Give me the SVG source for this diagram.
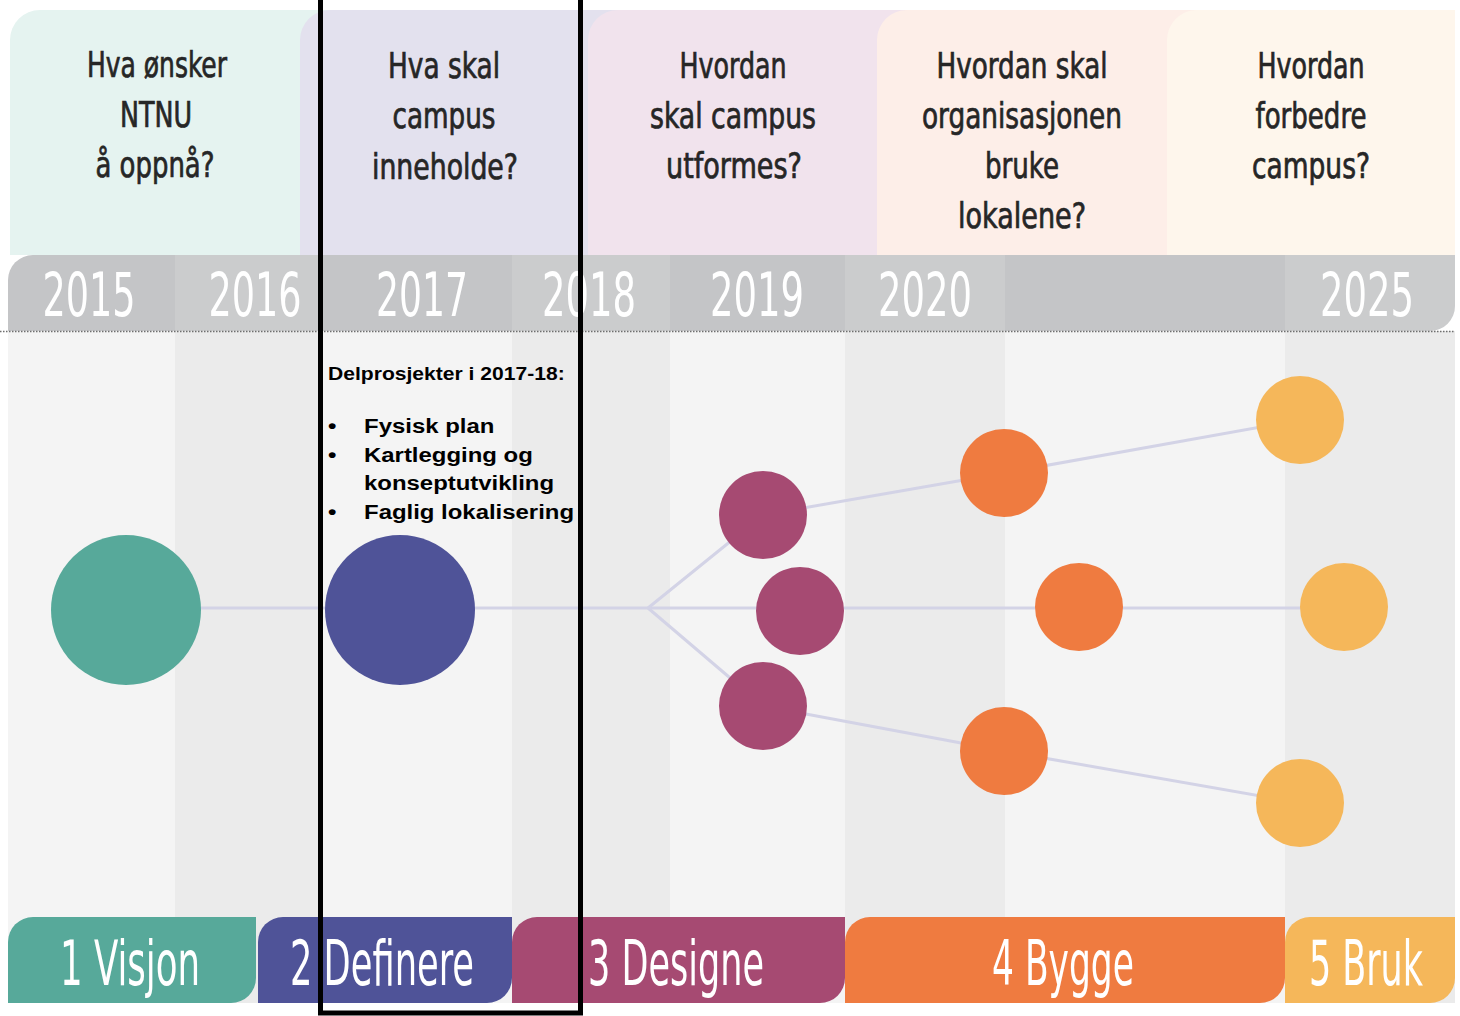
<svg xmlns="http://www.w3.org/2000/svg" width="1460" height="1016" viewBox="0 0 1460 1016">
  <style>
    .hdr { font-family: "Liberation Sans Narrow", "DejaVu Sans Condensed", "Liberation Sans", sans-serif; font-size: 35px; fill: #262626; stroke: #262626; stroke-width: 0.7px; text-anchor: middle; }
    .yr { font-family: "Liberation Sans Narrow", "DejaVu Sans Condensed", "Liberation Sans", sans-serif; font-size: 60px; fill: #ffffff; text-anchor: middle; }
    .tab { font-family: "Liberation Sans Narrow", "DejaVu Sans Condensed", "Liberation Sans", sans-serif; font-size: 62px; fill: #ffffff; text-anchor: middle; }
    .note { font-family: "Liberation Sans", Arial, sans-serif; font-weight: bold; fill: #000000; }
    .conn { fill: none; stroke: #d3d3e6; stroke-width: 3; stroke-linejoin: round; }
    .band-l { fill: #f4f4f4; }
    .band-d { fill: #ebebeb; }
  </style>
  <defs>
    <clipPath id="barclip">
      <path d="M8,331 V280 A25,25 0 0 1 33,255 H1455 V306 A25,25 0 0 1 1430,331 Z"/>
    </clipPath>
  </defs>

  <rect x="0" y="0" width="1460" height="1016" fill="#ffffff"/>

  <!-- background columns -->
  <g id="bands">
    <rect class="band-l" x="8" y="331" width="167" height="672"/>
    <rect class="band-d" x="175" y="331" width="145" height="672"/>
    <rect class="band-l" x="320" y="331" width="192" height="672"/>
    <rect class="band-d" x="512" y="331" width="158" height="672"/>
    <rect class="band-l" x="670" y="331" width="175" height="672"/>
    <rect class="band-d" x="845" y="331" width="160" height="672"/>
    <rect class="band-l" x="1005" y="331" width="280" height="672"/>
    <rect class="band-d" x="1285" y="331" width="170" height="672"/>
  </g>

  <!-- header panels -->
  <g id="panel-1">
    <path d="M10,255 V40 A30,30 0 0 1 40,10 H330 V255 Z" fill="#e5f3f0"/>
  </g>
  <g id="panel-2">
    <path d="M300,255 V40 A30,30 0 0 1 330,10 H620 V255 Z" fill="#e3e1ee"/>
  </g>
  <g id="panel-3">
    <path d="M588,255 V40 A30,30 0 0 1 618,10 H908 V255 Z" fill="#f1e3ed"/>
  </g>
  <g id="panel-4">
    <path d="M877,255 V40 A30,30 0 0 1 907,10 H1198 V255 Z" fill="#fdeee8"/>
  </g>
  <g id="panel-5">
    <path d="M1167,255 V40 A30,30 0 0 1 1197,10 H1455 V255 Z" fill="#fef6ec"/>
  </g>

  <g id="questions">
    <text class="hdr"><tspan x="157" y="77" textLength="140" lengthAdjust="spacingAndGlyphs">Hva ønsker</tspan><tspan x="156" y="127" textLength="72" lengthAdjust="spacingAndGlyphs">NTNU</tspan><tspan x="155" y="177" textLength="119" lengthAdjust="spacingAndGlyphs">å oppnå?</tspan></text>
    <text class="hdr"><tspan x="444" y="78" textLength="112" lengthAdjust="spacingAndGlyphs">Hva skal</tspan><tspan x="444" y="128" textLength="103" lengthAdjust="spacingAndGlyphs">campus</tspan><tspan x="445" y="179" textLength="146" lengthAdjust="spacingAndGlyphs">inneholde?</tspan></text>
    <text class="hdr"><tspan x="733" y="78" textLength="107" lengthAdjust="spacingAndGlyphs">Hvordan</tspan><tspan x="733" y="128" textLength="166" lengthAdjust="spacingAndGlyphs">skal campus</tspan><tspan x="734" y="178" textLength="136" lengthAdjust="spacingAndGlyphs">utformes?</tspan></text>
    <text class="hdr"><tspan x="1022" y="78" textLength="171" lengthAdjust="spacingAndGlyphs">Hvordan skal</tspan><tspan x="1022" y="128" textLength="200" lengthAdjust="spacingAndGlyphs">organisasjonen</tspan><tspan x="1022" y="178" textLength="74" lengthAdjust="spacingAndGlyphs">bruke</tspan><tspan x="1022" y="228" textLength="128" lengthAdjust="spacingAndGlyphs">lokalene?</tspan></text>
    <text class="hdr"><tspan x="1311" y="78" textLength="107" lengthAdjust="spacingAndGlyphs">Hvordan</tspan><tspan x="1311" y="128" textLength="111" lengthAdjust="spacingAndGlyphs">forbedre</tspan><tspan x="1311" y="178" textLength="118" lengthAdjust="spacingAndGlyphs">campus?</tspan></text>
  </g>

  <!-- year bar -->
  <g id="year-bar">
    <path d="M8,331 V280 A25,25 0 0 1 33,255 H1455 V306 A25,25 0 0 1 1430,331 Z" fill="#c4c5c7"/>
    <g clip-path="url(#barclip)" fill="#ffffff" opacity="0.12">
      <rect x="175" y="255" width="145" height="76"/>
      <rect x="512" y="255" width="158" height="76"/>
      <rect x="845" y="255" width="160" height="76"/>
      <rect x="1285" y="255" width="170" height="76"/>
    </g>
    <text class="yr" x="89" y="316" textLength="93" lengthAdjust="spacingAndGlyphs">2015</text>
    <text class="yr" x="255" y="316" textLength="93" lengthAdjust="spacingAndGlyphs">2016</text>
    <text class="yr" x="422" y="316" textLength="92" lengthAdjust="spacingAndGlyphs">2017</text>
    <text class="yr" x="589" y="316" textLength="94" lengthAdjust="spacingAndGlyphs">2018</text>
    <text class="yr" x="757" y="316" textLength="94" lengthAdjust="spacingAndGlyphs">2019</text>
    <text class="yr" x="925" y="316" textLength="94" lengthAdjust="spacingAndGlyphs">2020</text>
    <text class="yr" x="1367" y="316" textLength="94" lengthAdjust="spacingAndGlyphs">2025</text>
    <line x1="0" y1="331.5" x2="1455" y2="331.5" stroke="#6e6e6e" stroke-width="1.5" stroke-dasharray="1.5 1.5"/>
  </g>

  <!-- connectors -->
  <g id="connectors">
    <path class="conn" d="M126,608 H1344"/>
    <path class="conn" d="M648,608 L763,515 L1004,473 L1300,420"/>
    <path class="conn" d="M648,608 L763,706 L1004,751 L1300,803"/>
  </g>

  <!-- nodes -->
  <g id="node-visjon"><circle cx="126" cy="610" r="75" fill="#57a99a"/></g>
  <g id="node-definere"><circle cx="400" cy="610" r="75" fill="#4f5398"/></g>
  <g id="node-design-1"><circle cx="763" cy="515" r="44" fill="#a64a72"/></g>
  <g id="node-design-2"><circle cx="800" cy="611" r="44" fill="#a64a72"/></g>
  <g id="node-design-3"><circle cx="763" cy="706" r="44" fill="#a64a72"/></g>
  <g id="node-bygg-1"><circle cx="1004" cy="473" r="44" fill="#ef7b40"/></g>
  <g id="node-bygg-2"><circle cx="1079" cy="607" r="44" fill="#ef7b40"/></g>
  <g id="node-bygg-3"><circle cx="1004" cy="751" r="44" fill="#ef7b40"/></g>
  <g id="node-bruk-1"><circle cx="1300" cy="420" r="44" fill="#f5b75a"/></g>
  <g id="node-bruk-2"><circle cx="1344" cy="607" r="44" fill="#f5b75a"/></g>
  <g id="node-bruk-3"><circle cx="1300" cy="803" r="44" fill="#f5b75a"/></g>

  <!-- phase tabs -->
  <g id="tab-visjon">
    <path d="M8,1003 V942 A25,25 0 0 1 33,917 H256 V978 A25,25 0 0 1 231,1003 Z" fill="#57a99a"/>
    <text class="tab" x="130" y="985" textLength="140" lengthAdjust="spacingAndGlyphs">1 Visjon</text>
  </g>
  <g id="tab-definere">
    <path d="M258,1003 V942 A25,25 0 0 1 283,917 H512 V978 A25,25 0 0 1 487,1003 Z" fill="#4f5398"/>
    <text class="tab" x="382" y="985" textLength="184" lengthAdjust="spacingAndGlyphs">2 Definere</text>
  </g>
  <g id="tab-designe">
    <path d="M512,1003 V942 A25,25 0 0 1 537,917 H845 V978 A25,25 0 0 1 820,1003 Z" fill="#a64a72"/>
    <text class="tab" x="676" y="985" textLength="176" lengthAdjust="spacingAndGlyphs">3 Designe</text>
  </g>
  <g id="tab-bygge">
    <path d="M845,1003 V942 A25,25 0 0 1 870,917 H1285 V978 A25,25 0 0 1 1260,1003 Z" fill="#ef7b40"/>
    <text class="tab" x="1063" y="985" textLength="142" lengthAdjust="spacingAndGlyphs">4 Bygge</text>
  </g>
  <g id="tab-bruk">
    <path d="M1285,1003 V942 A25,25 0 0 1 1310,917 H1455 V978 A25,25 0 0 1 1430,1003 Z" fill="#f5b75a"/>
    <text class="tab" x="1366" y="985" textLength="114" lengthAdjust="spacingAndGlyphs">5 Bruk</text>
  </g>

  <!-- highlight box with sub-projects -->
  <g id="highlight-2017-18">
    <rect x="320.5" y="-10" width="260" height="1023" fill="none" stroke="#000000" stroke-width="5"/>
    <g class="note" transform="translate(328 0) scale(1.14 1)">
      <text x="0" y="380" font-size="18.5">Delprosjekter i 2017-18:</text>
      <g font-size="21">
        <text x="0" y="433">•</text>
        <text x="31.6" y="433">Fysisk plan</text>
        <text x="0" y="462">•</text>
        <text x="31.6" y="462">Kartlegging og</text>
        <text x="31.6" y="490">konseptutvikling</text>
        <text x="0" y="519">•</text>
        <text x="31.6" y="519">Faglig lokalisering</text>
      </g>
    </g>
  </g>
</svg>
